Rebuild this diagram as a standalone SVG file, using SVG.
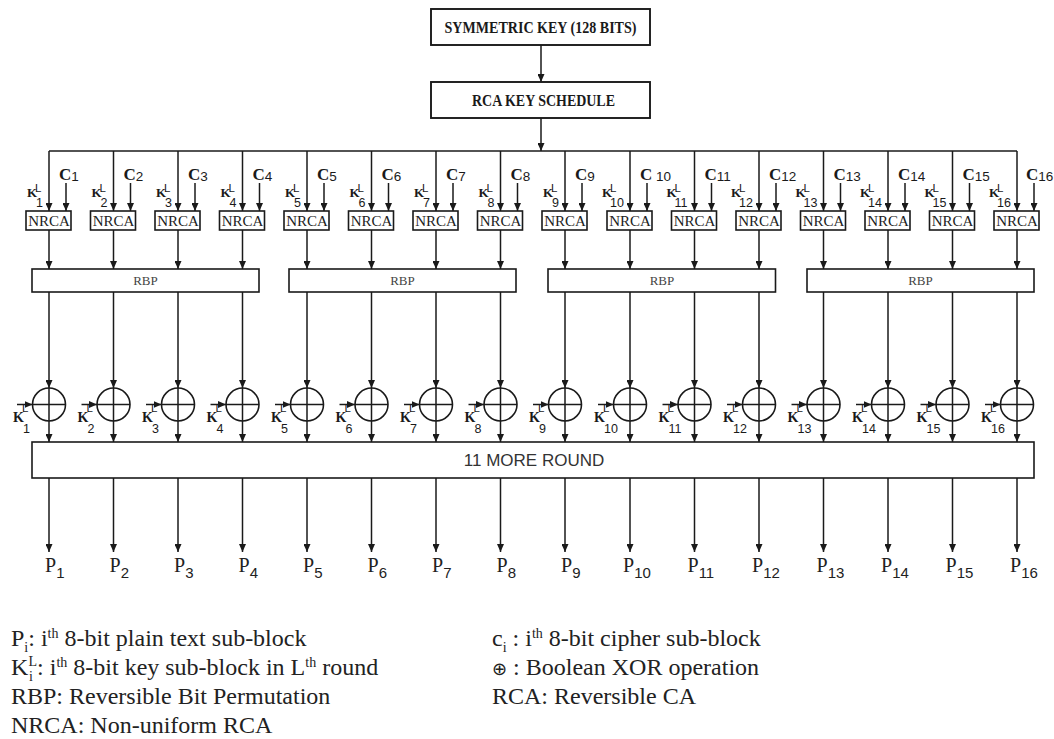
<svg xmlns="http://www.w3.org/2000/svg" width="1054" height="739" viewBox="0 0 1054 739">
<defs>
<style>
.box{fill:#fff;stroke:#1a1a1a;stroke-width:1.6}
.tbox{fill:#fff;stroke:#1a1a1a;stroke-width:1.9}
.ln{stroke:#1a1a1a;stroke-width:1.5;fill:none}
.arr{marker-end:url(#ah)}
.xr{fill:#fff;stroke:#1a1a1a;stroke-width:1.6}
.xp{stroke:#1a1a1a;stroke-width:1.5;fill:none}
.tt{font-family:"Liberation Serif",serif;font-weight:bold;font-size:16px;fill:#1a1a1a;text-anchor:middle}
.nr{font-family:"Liberation Serif",serif;font-size:15px;fill:#222;text-anchor:middle}
.rb{font-family:"Liberation Serif",serif;font-size:13px;fill:#444;text-anchor:middle}
.rd{font-family:"Liberation Sans",Arial,sans-serif;font-size:17px;fill:#333;text-anchor:middle}
.kt{font-family:"Liberation Serif",serif;font-weight:bold;font-size:13px;fill:#1a1a1a}
.kx{font-family:"Liberation Serif",serif;font-weight:bold;font-size:14px;fill:#1a1a1a}
.sp{font-family:"Liberation Sans",Arial,sans-serif;font-weight:normal;font-size:11.5px}
.sb{font-family:"Liberation Sans",Arial,sans-serif;font-weight:normal;font-size:12.5px}
.ct{font-family:"Liberation Serif",serif;font-weight:bold;font-size:17px;fill:#1a1a1a}
.cs{font-family:"Liberation Sans",Arial,sans-serif;font-weight:normal;font-size:13.5px}
.pl{font-family:"Liberation Serif",serif;font-size:20px;fill:#222}
.ps{font-family:"Liberation Sans",Arial,sans-serif;font-size:15px}
.lg{font-family:"Liberation Serif",serif;font-size:24px;fill:#222}
.lgs{font-size:14px}
.sym{font-family:"DejaVu Sans",sans-serif;font-size:18px}
</style>
<marker id="ah" viewBox="0 0 8 7" refX="8" refY="3.5" markerWidth="8" markerHeight="7" markerUnits="userSpaceOnUse" orient="auto"><path d="M0,0 L8,3.5 L0,7 z" fill="#1a1a1a"/></marker>
</defs>
<rect width="1054" height="739" fill="#fff"/>

<g id="connectors" class="ln">
<path d="M541 45V82" class="arr"/>
<path d="M541 118V151" class="arr"/>
<path d="M49 151H1017"/>
<g class="arr">
<path d="M49 151V211"/><path d="M66 183V211"/><path d="M49 230V269"/><path d="M49 292V388"/><path d="M17 404.5H32.5"/><path d="M49 421V442"/><path d="M49 478V552"/>
<path d="M113.5 151V211"/><path d="M130.5 183V211"/><path d="M113.5 230V269"/><path d="M113.5 292V388"/><path d="M81.5 404.5H97"/><path d="M113.5 421V442"/><path d="M113.5 478V552"/>
<path d="M178 151V211"/><path d="M195 183V211"/><path d="M178 230V269"/><path d="M178 292V388"/><path d="M146 404.5H161.5"/><path d="M178 421V442"/><path d="M178 478V552"/>
<path d="M242.5 151V211"/><path d="M259.5 183V211"/><path d="M242.5 230V269"/><path d="M242.5 292V388"/><path d="M210.5 404.5H226"/><path d="M242.5 421V442"/><path d="M242.5 478V552"/>
<path d="M307 151V211"/><path d="M324 183V211"/><path d="M307 230V269"/><path d="M307 292V388"/><path d="M275 404.5H290.5"/><path d="M307 421V442"/><path d="M307 478V552"/>
<path d="M371.5 151V211"/><path d="M388.5 183V211"/><path d="M371.5 230V269"/><path d="M371.5 292V388"/><path d="M339.5 404.5H355"/><path d="M371.5 421V442"/><path d="M371.5 478V552"/>
<path d="M436 151V211"/><path d="M453 183V211"/><path d="M436 230V269"/><path d="M436 292V388"/><path d="M404 404.5H419.5"/><path d="M436 421V442"/><path d="M436 478V552"/>
<path d="M500.5 151V211"/><path d="M517.5 183V211"/><path d="M500.5 230V269"/><path d="M500.5 292V388"/><path d="M468.5 404.5H484"/><path d="M500.5 421V442"/><path d="M500.5 478V552"/>
<path d="M565 151V211"/><path d="M582 183V211"/><path d="M565 230V269"/><path d="M565 292V388"/><path d="M533 404.5H548.5"/><path d="M565 421V442"/><path d="M565 478V552"/>
<path d="M630 151V211"/><path d="M647 183V211"/><path d="M630 230V269"/><path d="M630 292V388"/><path d="M598 404.5H613.5"/><path d="M630 421V442"/><path d="M630 478V552"/>
<path d="M694.5 151V211"/><path d="M711.5 183V211"/><path d="M694.5 230V269"/><path d="M694.5 292V388"/><path d="M662.5 404.5H678"/><path d="M694.5 421V442"/><path d="M694.5 478V552"/>
<path d="M759 151V211"/><path d="M776 183V211"/><path d="M759 230V269"/><path d="M759 292V388"/><path d="M727 404.5H742.5"/><path d="M759 421V442"/><path d="M759 478V552"/>
<path d="M823.5 151V211"/><path d="M840.5 183V211"/><path d="M823.5 230V269"/><path d="M823.5 292V388"/><path d="M791.5 404.5H807"/><path d="M823.5 421V442"/><path d="M823.5 478V552"/>
<path d="M888 151V211"/><path d="M905 183V211"/><path d="M888 230V269"/><path d="M888 292V388"/><path d="M856 404.5H871.5"/><path d="M888 421V442"/><path d="M888 478V552"/>
<path d="M952.5 151V211"/><path d="M969.5 183V211"/><path d="M952.5 230V269"/><path d="M952.5 292V388"/><path d="M920.5 404.5H936"/><path d="M952.5 421V442"/><path d="M952.5 478V552"/>
<path d="M1017 151V211"/><path d="M1034 183V211"/><path d="M1017 230V269"/><path d="M1017 292V388"/><path d="M985 404.5H1000.5"/><path d="M1017 421V442"/><path d="M1017 478V552"/>
</g>
</g>

<g id="symmetric-key"><rect class="tbox" x="431" y="9" width="219" height="36"/><text class="tt" x="540.5" y="33" textLength="192" lengthAdjust="spacingAndGlyphs">SYMMETRIC KEY (128 BITS)</text></g>
<g id="key-schedule"><rect class="tbox" x="431" y="82" width="219" height="36"/><text class="tt" x="543.5" y="106" textLength="143" lengthAdjust="spacingAndGlyphs">RCA KEY SCHEDULE</text></g>

<g id="nrca1"><rect class="box" x="26" y="211" width="45" height="19"/><text class="nr" x="49" y="226">NRCA</text></g>
<g id="nrca2"><rect class="box" x="90.5" y="211" width="45" height="19"/><text class="nr" x="113.5" y="226">NRCA</text></g>
<g id="nrca3"><rect class="box" x="155" y="211" width="45" height="19"/><text class="nr" x="178" y="226">NRCA</text></g>
<g id="nrca4"><rect class="box" x="219.5" y="211" width="45" height="19"/><text class="nr" x="242.5" y="226">NRCA</text></g>
<g id="nrca5"><rect class="box" x="284" y="211" width="45" height="19"/><text class="nr" x="307" y="226">NRCA</text></g>
<g id="nrca6"><rect class="box" x="348.5" y="211" width="45" height="19"/><text class="nr" x="371.5" y="226">NRCA</text></g>
<g id="nrca7"><rect class="box" x="413" y="211" width="45" height="19"/><text class="nr" x="436" y="226">NRCA</text></g>
<g id="nrca8"><rect class="box" x="477.5" y="211" width="45" height="19"/><text class="nr" x="500.5" y="226">NRCA</text></g>
<g id="nrca9"><rect class="box" x="542" y="211" width="45" height="19"/><text class="nr" x="565" y="226">NRCA</text></g>
<g id="nrca10"><rect class="box" x="607" y="211" width="45" height="19"/><text class="nr" x="630" y="226">NRCA</text></g>
<g id="nrca11"><rect class="box" x="671.5" y="211" width="45" height="19"/><text class="nr" x="694.5" y="226">NRCA</text></g>
<g id="nrca12"><rect class="box" x="736" y="211" width="45" height="19"/><text class="nr" x="759" y="226">NRCA</text></g>
<g id="nrca13"><rect class="box" x="800.5" y="211" width="45" height="19"/><text class="nr" x="823.5" y="226">NRCA</text></g>
<g id="nrca14"><rect class="box" x="865" y="211" width="45" height="19"/><text class="nr" x="888" y="226">NRCA</text></g>
<g id="nrca15"><rect class="box" x="929.5" y="211" width="45" height="19"/><text class="nr" x="952.5" y="226">NRCA</text></g>
<g id="nrca16"><rect class="box" x="994" y="211" width="45" height="19"/><text class="nr" x="1017" y="226">NRCA</text></g>

<g id="rbp1"><rect class="box" x="32" y="269" width="227" height="23"/><text class="rb" x="145.5" y="285">RBP</text></g>
<g id="rbp2"><rect class="box" x="289" y="269" width="227" height="23"/><text class="rb" x="402.5" y="285">RBP</text></g>
<g id="rbp3"><rect class="box" x="548" y="269" width="227.5" height="23"/><text class="rb" x="662" y="285">RBP</text></g>
<g id="rbp4"><rect class="box" x="807" y="269" width="227" height="23"/><text class="rb" x="920.5" y="285">RBP</text></g>

<g id="xor1"><circle class="xr" cx="49" cy="404.5" r="16.5"/><path class="xp" d="M32.5 404.5H65.5M49 388V421"/></g>
<g id="xor2"><circle class="xr" cx="113.5" cy="404.5" r="16.5"/><path class="xp" d="M97 404.5H130M113.5 388V421"/></g>
<g id="xor3"><circle class="xr" cx="178" cy="404.5" r="16.5"/><path class="xp" d="M161.5 404.5H194.5M178 388V421"/></g>
<g id="xor4"><circle class="xr" cx="242.5" cy="404.5" r="16.5"/><path class="xp" d="M226 404.5H259M242.5 388V421"/></g>
<g id="xor5"><circle class="xr" cx="307" cy="404.5" r="16.5"/><path class="xp" d="M290.5 404.5H323.5M307 388V421"/></g>
<g id="xor6"><circle class="xr" cx="371.5" cy="404.5" r="16.5"/><path class="xp" d="M355 404.5H388M371.5 388V421"/></g>
<g id="xor7"><circle class="xr" cx="436" cy="404.5" r="16.5"/><path class="xp" d="M419.5 404.5H452.5M436 388V421"/></g>
<g id="xor8"><circle class="xr" cx="500.5" cy="404.5" r="16.5"/><path class="xp" d="M484 404.5H517M500.5 388V421"/></g>
<g id="xor9"><circle class="xr" cx="565" cy="404.5" r="16.5"/><path class="xp" d="M548.5 404.5H581.5M565 388V421"/></g>
<g id="xor10"><circle class="xr" cx="630" cy="404.5" r="16.5"/><path class="xp" d="M613.5 404.5H646.5M630 388V421"/></g>
<g id="xor11"><circle class="xr" cx="694.5" cy="404.5" r="16.5"/><path class="xp" d="M678 404.5H711M694.5 388V421"/></g>
<g id="xor12"><circle class="xr" cx="759" cy="404.5" r="16.5"/><path class="xp" d="M742.5 404.5H775.5M759 388V421"/></g>
<g id="xor13"><circle class="xr" cx="823.5" cy="404.5" r="16.5"/><path class="xp" d="M807 404.5H840M823.5 388V421"/></g>
<g id="xor14"><circle class="xr" cx="888" cy="404.5" r="16.5"/><path class="xp" d="M871.5 404.5H904.5M888 388V421"/></g>
<g id="xor15"><circle class="xr" cx="952.5" cy="404.5" r="16.5"/><path class="xp" d="M936 404.5H969M952.5 388V421"/></g>
<g id="xor16"><circle class="xr" cx="1017" cy="404.5" r="16.5"/><path class="xp" d="M1000.5 404.5H1033.5M1017 388V421"/></g>

<g id="more-rounds"><rect class="box" x="32" y="442" width="1002" height="36"/><text class="rd" x="534" y="466">11 MORE ROUND</text></g>

<g id="cipher-labels" class="ct">
<text x="59" y="180">C<tspan class="cs" dy="1">1</tspan></text>
<text x="123.5" y="180">C<tspan class="cs" dy="1">2</tspan></text>
<text x="188" y="180">C<tspan class="cs" dy="1">3</tspan></text>
<text x="252.5" y="180">C<tspan class="cs" dy="1">4</tspan></text>
<text x="317" y="180">C<tspan class="cs" dy="1">5</tspan></text>
<text x="381.5" y="180">C<tspan class="cs" dy="1">6</tspan></text>
<text x="446" y="180">C<tspan class="cs" dy="1">7</tspan></text>
<text x="510.5" y="180">C<tspan class="cs" dy="1">8</tspan></text>
<text x="575" y="180">C<tspan class="cs" dy="1">9</tspan></text>
<text x="640" y="180">C<tspan class="cs" dy="1"> 10</tspan></text>
<text x="704.5" y="180">C<tspan class="cs" dy="1">11</tspan></text>
<text x="769" y="180">C<tspan class="cs" dy="1">12</tspan></text>
<text x="833.5" y="180">C<tspan class="cs" dy="1">13</tspan></text>
<text x="898" y="180">C<tspan class="cs" dy="1">14</tspan></text>
<text x="962.5" y="180">C<tspan class="cs" dy="1">15</tspan></text>
<text x="1026" y="180">C<tspan class="cs" dy="1">16</tspan></text>
</g>

<g id="key-labels-top" class="kt">
<text><tspan x="27" y="197">K</tspan><tspan class="sp" x="35" y="192">L</tspan><tspan class="sb" x="36" y="207">1</tspan></text>
<text><tspan x="91.5" y="197">K</tspan><tspan class="sp" x="99.5" y="192">L</tspan><tspan class="sb" x="100.5" y="207">2</tspan></text>
<text><tspan x="156" y="197">K</tspan><tspan class="sp" x="164" y="192">L</tspan><tspan class="sb" x="165" y="207">3</tspan></text>
<text><tspan x="220.5" y="197">K</tspan><tspan class="sp" x="228.5" y="192">L</tspan><tspan class="sb" x="229.5" y="207">4</tspan></text>
<text><tspan x="285" y="197">K</tspan><tspan class="sp" x="293" y="192">L</tspan><tspan class="sb" x="294" y="207">5</tspan></text>
<text><tspan x="349.5" y="197">K</tspan><tspan class="sp" x="357.5" y="192">L</tspan><tspan class="sb" x="358.5" y="207">6</tspan></text>
<text><tspan x="414" y="197">K</tspan><tspan class="sp" x="422" y="192">L</tspan><tspan class="sb" x="423" y="207">7</tspan></text>
<text><tspan x="478.5" y="197">K</tspan><tspan class="sp" x="486.5" y="192">L</tspan><tspan class="sb" x="487.5" y="207">8</tspan></text>
<text><tspan x="543" y="197">K</tspan><tspan class="sp" x="551" y="192">L</tspan><tspan class="sb" x="552" y="207">9</tspan></text>
<text><tspan x="602" y="197">K</tspan><tspan class="sp" x="610" y="192">L</tspan><tspan class="sb" x="610" y="207">10</tspan></text>
<text><tspan x="666.5" y="197">K</tspan><tspan class="sp" x="674.5" y="192">L</tspan><tspan class="sb" x="674.5" y="207">11</tspan></text>
<text><tspan x="731" y="197">K</tspan><tspan class="sp" x="739" y="192">L</tspan><tspan class="sb" x="739" y="207">12</tspan></text>
<text><tspan x="795.5" y="197">K</tspan><tspan class="sp" x="803.5" y="192">L</tspan><tspan class="sb" x="803.5" y="207">13</tspan></text>
<text><tspan x="860" y="197">K</tspan><tspan class="sp" x="868" y="192">L</tspan><tspan class="sb" x="868" y="207">14</tspan></text>
<text><tspan x="924.5" y="197">K</tspan><tspan class="sp" x="932.5" y="192">L</tspan><tspan class="sb" x="932.5" y="207">15</tspan></text>
<text><tspan x="989" y="197">K</tspan><tspan class="sp" x="997" y="192">L</tspan><tspan class="sb" x="997" y="207">16</tspan></text>
</g>

<g id="key-labels-xor" class="kx">
<text><tspan x="13" y="422">K</tspan><tspan class="sp" x="22" y="412">L</tspan><tspan class="sb" x="23" y="433">1</tspan></text>
<text><tspan x="77.5" y="422">K</tspan><tspan class="sp" x="86.5" y="412">L</tspan><tspan class="sb" x="87.5" y="433">2</tspan></text>
<text><tspan x="142" y="422">K</tspan><tspan class="sp" x="151" y="412">L</tspan><tspan class="sb" x="152" y="433">3</tspan></text>
<text><tspan x="206.5" y="422">K</tspan><tspan class="sp" x="215.5" y="412">L</tspan><tspan class="sb" x="216.5" y="433">4</tspan></text>
<text><tspan x="271" y="422">K</tspan><tspan class="sp" x="280" y="412">L</tspan><tspan class="sb" x="281" y="433">5</tspan></text>
<text><tspan x="335.5" y="422">K</tspan><tspan class="sp" x="344.5" y="412">L</tspan><tspan class="sb" x="345.5" y="433">6</tspan></text>
<text><tspan x="400" y="422">K</tspan><tspan class="sp" x="409" y="412">L</tspan><tspan class="sb" x="410" y="433">7</tspan></text>
<text><tspan x="464.5" y="422">K</tspan><tspan class="sp" x="473.5" y="412">L</tspan><tspan class="sb" x="474.5" y="433">8</tspan></text>
<text><tspan x="529" y="422">K</tspan><tspan class="sp" x="538" y="412">L</tspan><tspan class="sb" x="539" y="433">9</tspan></text>
<text><tspan x="594" y="422">K</tspan><tspan class="sp" x="603" y="412">L</tspan><tspan class="sb" x="604" y="433">10</tspan></text>
<text><tspan x="658.5" y="422">K</tspan><tspan class="sp" x="667.5" y="412">L</tspan><tspan class="sb" x="668.5" y="433">11</tspan></text>
<text><tspan x="723" y="422">K</tspan><tspan class="sp" x="732" y="412">L</tspan><tspan class="sb" x="733" y="433">12</tspan></text>
<text><tspan x="787.5" y="422">K</tspan><tspan class="sp" x="796.5" y="412">L</tspan><tspan class="sb" x="797.5" y="433">13</tspan></text>
<text><tspan x="852" y="422">K</tspan><tspan class="sp" x="861" y="412">L</tspan><tspan class="sb" x="862" y="433">14</tspan></text>
<text><tspan x="916.5" y="422">K</tspan><tspan class="sp" x="925.5" y="412">L</tspan><tspan class="sb" x="926.5" y="433">15</tspan></text>
<text><tspan x="981" y="422">K</tspan><tspan class="sp" x="990" y="412">L</tspan><tspan class="sb" x="991" y="433">16</tspan></text>
</g>

<g id="plaintext-labels" class="pl">
<text x="45" y="572">P<tspan class="ps" dy="6">1</tspan></text>
<text x="109.5" y="572">P<tspan class="ps" dy="6">2</tspan></text>
<text x="174" y="572">P<tspan class="ps" dy="6">3</tspan></text>
<text x="238.5" y="572">P<tspan class="ps" dy="6">4</tspan></text>
<text x="303" y="572">P<tspan class="ps" dy="6">5</tspan></text>
<text x="367.5" y="572">P<tspan class="ps" dy="6">6</tspan></text>
<text x="432" y="572">P<tspan class="ps" dy="6">7</tspan></text>
<text x="496.5" y="572">P<tspan class="ps" dy="6">8</tspan></text>
<text x="561" y="572">P<tspan class="ps" dy="6">9</tspan></text>
<text x="623" y="572">P<tspan class="ps" dy="6">10</tspan></text>
<text x="687.5" y="572">P<tspan class="ps" dy="6">11</tspan></text>
<text x="752" y="572">P<tspan class="ps" dy="6">12</tspan></text>
<text x="816.5" y="572">P<tspan class="ps" dy="6">13</tspan></text>
<text x="881" y="572">P<tspan class="ps" dy="6">14</tspan></text>
<text x="945.5" y="572">P<tspan class="ps" dy="6">15</tspan></text>
<text x="1010" y="572">P<tspan class="ps" dy="6">16</tspan></text>
</g>

<g id="legend" class="lg">
<text x="11" y="646">P<tspan class="lgs" dy="6">i</tspan><tspan dy="-6">: i</tspan><tspan class="lgs" dy="-8">th</tspan><tspan dy="8"> 8-bit plain text sub-block</tspan></text>
<text><tspan x="11" y="675">K</tspan><tspan class="lgs" x="29" y="681">i</tspan><tspan class="lgs" x="28.5" y="666">L</tspan><tspan y="675">: i</tspan><tspan class="lgs" y="667">th</tspan><tspan y="675"> 8-bit key sub-block in L</tspan><tspan class="lgs" y="667">th</tspan><tspan y="675"> round</tspan></text>
<text x="11" y="704">RBP: Reversible Bit Permutation</text>
<text x="11" y="733">NRCA: Non-uniform RCA</text>
<text x="492" y="646">c<tspan class="lgs" dy="6">i</tspan><tspan dy="-6"> : i</tspan><tspan class="lgs" dy="-8">th</tspan><tspan dy="8"> 8-bit cipher sub-block</tspan></text>
<text x="492" y="675"><tspan class="sym">⊕</tspan> : Boolean XOR operation</text>
<text x="492" y="704">RCA: Reversible CA</text>
</g>
</svg>
